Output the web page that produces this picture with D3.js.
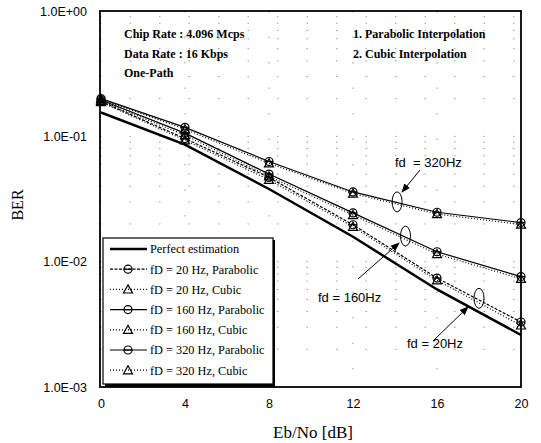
<!DOCTYPE html>
<html>
<head>
<meta charset="utf-8">
<script src="https://cdn.jsdelivr.net/npm/d3@7"></script>
<style>
body { margin: 0; background: #fff; }
text { fill: #000; }
</style>
</head>
<body>
<svg id="mysvg" width="541" height="443"></svg>
<script>
// Eb/No points (dB)
var ebno = [0, 4, 8, 12, 16, 20]

// BER values
var perfect     = [0.155, 0.086, 0.038, 0.0158, 0.0060, 0.0026]
var f20Para     = [0.190, 0.096, 0.047, 0.0197, 0.0074, 0.0033]
var f20Cubic    = [0.188, 0.093, 0.045, 0.0190, 0.0071, 0.0031]
var f160Para    = [0.195, 0.106, 0.050, 0.0245, 0.0120, 0.0076]
var f160Cubic   = [0.192, 0.102, 0.048, 0.0236, 0.0115, 0.0073]
var f320Para    = [0.200, 0.118, 0.063, 0.0360, 0.0248, 0.0205]
var f320Cubic   = [0.198, 0.114, 0.061, 0.0350, 0.0240, 0.0198]

var seriesNames = ['Perfect estimation', 'fD = 20 Hz, Parabolic', 'fD = 20 Hz, Cubic',
	'fD = 160 Hz, Parabolic', 'fD = 160 Hz, Cubic', 'fD = 320 Hz, Parabolic', 'fD = 320 Hz, Cubic']

var xTicks = [0, 4, 8, 12, 16, 20]
var yTicks = [1, 0.1, 0.01, 0.001]
var yTickLabels = ['1.0E+00', '1.0E-01', '1.0E-02', '1.0E-03']

var svg = d3.select('#mysvg')
var pLeft = 100, pRight = 521, pTop = 11, pBottom = 387

var x = d3.scaleLinear().domain([0, 20]).range([pLeft + 1, pRight])
var y = d3.scaleLog().domain([1, 0.001]).range([pTop, pBottom])

// styles: thick solid, parabolic with circle marker, cubic dotted with triangle
var styles = [
	{width: 2.5, dash: null, mark: null},
	{width: 1.2, dash: '3,1.5', mark: 'circle'},
	{width: 1.2, dash: '1,2', mark: 'tri'},
	{width: 1.2, dash: null, mark: 'circle'},
	{width: 1.2, dash: '1,2', mark: 'tri'},
	{width: 1.2, dash: null, mark: 'circle'},
	{width: 1.2, dash: '1,2', mark: 'tri'}
]
var allData = [perfect, f20Para, f20Cubic, f160Para, f160Cubic, f320Para, f320Cubic]

// grid (very sparse dots)
var minor = []
for (var e = -3; e < 0; e++) {
	for (var m = 1; m < 10; m++) {
		minor.push(m * Math.pow(10, e))
	}
}
svg.append('g').selectAll('line').data(minor.filter(function(d) { return d > 0.001 }))
	.enter().append('line')
	.attr('x1', pLeft).attr('x2', pRight)
	.attr('y1', function(d) { return y(d) }).attr('y2', function(d) { return y(d) })
	.attr('stroke', '#999').attr('stroke-width', 1).attr('stroke-dasharray', '1.5,28')
svg.append('g').selectAll('line').data([4, 8, 12, 16])
	.enter().append('line')
	.attr('y1', pTop).attr('y2', pBottom)
	.attr('x1', function(d) { return x(d) }).attr('x2', function(d) { return x(d) })
	.attr('stroke', '#999').attr('stroke-width', 1).attr('stroke-dasharray', '1.5,24')

// axes
var xAxis = svg.append('g').attr('transform', 'translate(0,' + pBottom + ')')
	.call(d3.axisBottom(x).tickValues(xTicks).tickSize(0).tickPadding(12))
xAxis.select('.domain').remove()
xAxis.selectAll('text').style('font-family', 'Liberation Sans, Arial').style('font-size', '12.5px')

var yAxis = svg.append('g').attr('transform', 'translate(' + pLeft + ',0)')
	.call(d3.axisLeft(y).tickValues(yTicks).tickSize(0).tickPadding(13)
		.tickFormat(function(d, i) { return yTickLabels[i] }))
yAxis.select('.domain').remove()
yAxis.selectAll('text').style('font-family', 'Liberation Sans, Arial').style('font-size', '12.5px')

// frame
svg.append('rect').attr('x', pLeft).attr('y', pTop).attr('width', pRight - pLeft).attr('height', pBottom - pTop)
	.attr('fill', 'none').attr('stroke', '#000').attr('stroke-width', 1.8)

// lines
var line = d3.line().x(function(d, i) { return x(ebno[i]) }).y(function(d) { return y(d) })

function drawMark(g, kind, cx, cy) {
	if (kind == 'circle') {
		g.append('circle').attr('cx', cx).attr('cy', cy).attr('r', 4)
			.attr('fill', 'none').attr('stroke', '#000').attr('stroke-width', 1.2)
		g.append('line').attr('x1', cx - 4).attr('x2', cx + 4).attr('y1', cy).attr('y2', cy)
			.attr('stroke', '#000').attr('stroke-width', 1.2)
	}
	else if (kind == 'tri') {
		var s = 4.5
		g.append('path').attr('d', 'M' + cx + ',' + (cy - s) + 'L' + (cx + s) + ',' + (cy + s * 0.8) + 'L' + (cx - s) + ',' + (cy + s * 0.8) + 'Z')
			.attr('fill', 'none').attr('stroke', '#000').attr('stroke-width', 1.2)
	}
}

for (var i = 0; i < allData.length; i++) {
	var st = styles[i]
	var p = svg.append('path').datum(allData[i]).attr('d', line)
		.attr('fill', 'none').attr('stroke', '#000').attr('stroke-width', st.width)
	if (st.dash) p.attr('stroke-dasharray', st.dash)
	if (st.mark) {
		var g = svg.append('g')
		for (var j = 0; j < ebno.length; j++) {
			drawMark(g, st.mark, x(ebno[j]), y(allData[i][j]))
		}
	}
}

// annotation ellipses + arrows
var defs = svg.append('defs')
defs.append('marker').attr('id', 'arr').attr('viewBox', '0 0 10 10').attr('refX', 9).attr('refY', 5)
	.attr('markerWidth', 9).attr('markerHeight', 9).attr('orient', 'auto')
	.append('path').attr('d', 'M0,1L10,5L0,9Z').attr('fill', '#000')

var notes = [
	{label: 'fd  = 320Hz', ex: 14.1, ey: 0.0300, tx: 395, ty: 162, ax1: 420, ay1: 170, ax2: 402, ay2: 192},
	{label: 'fd = 160Hz', ex: 14.5, ey: 0.0160, tx: 318, ty: 297, ax1: 358, ay1: 279, ax2: 399, ay2: 243},
	{label: 'fd = 20Hz', ex: 18.0, ey: 0.0051, tx: 407, ty: 343, ax1: 433, ay1: 341, ax2: 468, ay2: 307}
]
notes.forEach(function(n) {
	svg.append('ellipse').attr('cx', x(n.ex)).attr('cy', y(n.ey)).attr('rx', 5).attr('ry', 10)
		.attr('fill', 'none').attr('stroke', '#000').attr('stroke-width', 1)
	svg.append('line').attr('x1', n.ax1).attr('y1', n.ay1).attr('x2', n.ax2).attr('y2', n.ay2)
		.attr('stroke', '#000').attr('stroke-width', 1).attr('marker-end', 'url(#arr)')
	svg.append('text').attr('x', n.tx).attr('y', n.ty).attr('dy', '0.35em')
		.attr('xml:space', 'preserve')
		.style('font-family', 'Liberation Sans, Arial').style('font-size', '13px')
		.text(n.label)
})

// info text
var info = ['Chip Rate : 4.096 Mcps', 'Data Rate : 16 Kbps', 'One-Path']
info.forEach(function(t, i) {
	svg.append('text').attr('x', 124).attr('y', 38 + i * 19.5)
		.style('font-family', 'Liberation Serif, Times New Roman').style('font-weight', 'bold').style('font-size', '12px')
		.text(t)
})
var info2 = ['1. Parabolic Interpolation', '2. Cubic Interpolation']
info2.forEach(function(t, i) {
	svg.append('text').attr('x', 353).attr('y', 38 + i * 19.5)
		.style('font-family', 'Liberation Serif, Times New Roman').style('font-weight', 'bold').style('font-size', '12px')
		.text(t)
})

// legend
var lg = svg.append('g')
lg.append('rect').attr('x', 105).attr('y', 240).attr('width', 170).attr('height', 147).attr('fill', '#000')
lg.append('rect').attr('x', 103).attr('y', 238).attr('width', 170).attr('height', 146)
	.attr('fill', '#fff').attr('stroke', '#000').attr('stroke-width', 1.2)
for (var k = 0; k < seriesNames.length; k++) {
	var ly = 249 + k * 20.2
	var st = styles[k]
	var l = lg.append('line').attr('x1', 110).attr('x2', 147).attr('y1', ly).attr('y2', ly)
		.attr('stroke', '#000').attr('stroke-width', st.width)
	if (st.dash) l.attr('stroke-dasharray', st.dash)
	if (st.mark) drawMark(lg, st.mark, 128, ly)
	lg.append('text').attr('x', 150).attr('y', ly).attr('dy', '0.35em')
		.style('font-family', 'Liberation Serif, Times New Roman').style('font-size', '12.3px')
		.text(seriesNames[k])
}

// axis titles
svg.append('text').attr('transform', 'translate(23,205) rotate(-90)').attr('text-anchor', 'middle')
	.style('font-family', 'Liberation Serif, Times New Roman').style('font-size', '16px')
	.text('BER')
svg.append('text').attr('x', 313).attr('y', 438).attr('text-anchor', 'middle')
	.style('font-family', 'Liberation Serif, Times New Roman').style('font-size', '17px')
	.text('Eb/No [dB]')
</script>
</body>
</html>
